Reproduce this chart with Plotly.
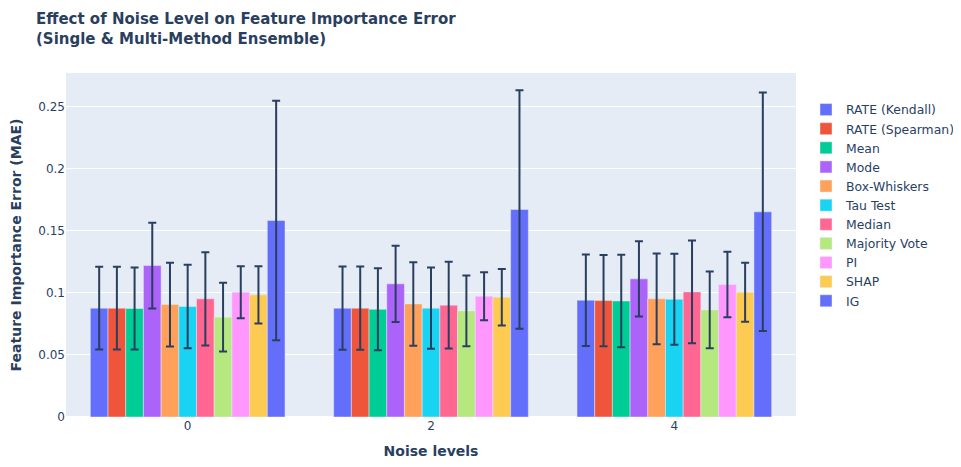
import plotly.graph_objects as go

# noise levels on the x axis
noise_levels = ["0", "2", "4"]

methods = ["RATE (Kendall)", "RATE (Spearman)", "Mean", "Mode", "Box-Whiskers",
           "Tau Test", "Median", "Majority Vote", "PI", "SHAP", "IG"]

# mean absolute error per method, one value per noise level
mae = {
    "RATE (Kendall)":  [0.0877, 0.0877, 0.0941],
    "RATE (Spearman)": [0.0877, 0.0877, 0.0938],
    "Mean":            [0.0874, 0.0868, 0.0935],
    "Mode":            [0.1220, 0.1073, 0.1113],
    "Box-Whiskers":    [0.0906, 0.0911, 0.0952],
    "Tau Test":        [0.0890, 0.0877, 0.0949],
    "Median":          [0.0952, 0.0901, 0.1008],
    "Majority Vote":   [0.0804, 0.0855, 0.0863],
    "PI":              [0.1005, 0.0973, 0.1067],
    "SHAP":            [0.0984, 0.0965, 0.1005],
    "IG":              [0.1583, 0.1672, 0.1653],
}

# standard deviation (error bar half-length)
mae_std = {
    "RATE (Kendall)":  [0.0333, 0.0335, 0.0368],
    "RATE (Spearman)": [0.0333, 0.0335, 0.0368],
    "Mean":            [0.0330, 0.0330, 0.0373],
    "Mode":            [0.0345, 0.0307, 0.0304],
    "Box-Whiskers":    [0.0337, 0.0336, 0.0366],
    "Tau Test":        [0.0336, 0.0327, 0.0367],
    "Median":          [0.0375, 0.0350, 0.0414],
    "Majority Vote":   [0.0277, 0.0285, 0.0309],
    "PI":              [0.0210, 0.0194, 0.0264],
    "SHAP":            [0.0230, 0.0227, 0.0238],
    "IG":              [0.0965, 0.0961, 0.0961],
}

fig = go.Figure()
for m in methods:
    fig.add_trace(go.Bar(
        name=m,
        x=noise_levels,
        y=mae[m],
        error_y=dict(type="data", array=mae_std[m], visible=True,
                     thickness=2, width=4, color="#2a3f5f"),
    ))

# a bit wider than the window so the legend doesn't squeeze the plot area
fig.update_layout(
    barmode="group",
    bargap=0.2,
    width=968,
    height=451,
    font=dict(family="DejaVu Sans, Verdana, sans-serif", size=12),
    title=dict(
        text="<b>Effect of Noise Level on Feature Importance Error<br>(Single & Multi-Method Ensemble)</b>",
        x=28 / 968, xanchor="left", xref="container",
        y=0.9645, yanchor="top",
        font=dict(size=15),
    ),
    xaxis=dict(title=dict(text="<b>Noise levels</b>", font=dict(size=14)),
               type="category", automargin=False),
    yaxis=dict(title=dict(text="<b>Feature Importance Error (MAE)</b>", font=dict(size=14)),
               automargin=False),
    legend=dict(x=1.0137, y=0.936, yanchor="top", font=dict(size=12.4)),
    margin=dict(l=58, r=180, t=65, b=42),
)

fig.write_html("out.html")
